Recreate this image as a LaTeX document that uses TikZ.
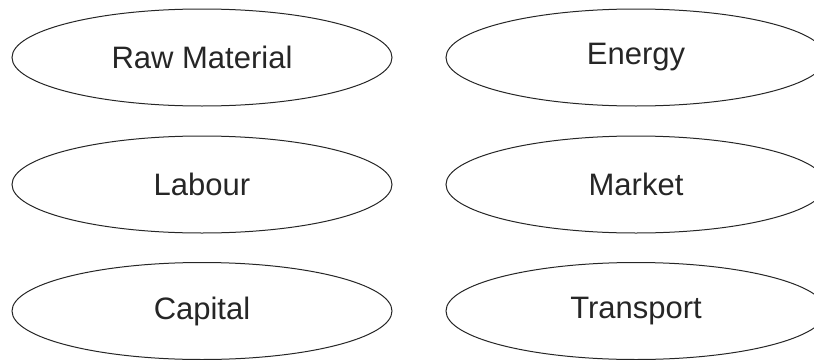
\documentclass[tikz,border=0pt]{standalone}
\usepackage{fontspec}
\setmainfont{Liberation Sans}
\usetikzlibrary{shapes.geometric}
\begin{document}
\begin{tikzpicture}[x=1pt,y=-1pt,
  factor/.style={draw=black!85, line width=1pt, ellipse, minimum width=380pt, minimum height=97pt, inner sep=0pt, text=black!85, font=\fontsize{31}{36}\selectfont}]
\useasboundingbox (0,0) rectangle (814,359);
\node[factor] (raw) at (202,57.5) {Raw Material};
\node[factor] (energy) at (636,57.5) {Energy};
\node[factor] (labour) at (202,184.5) {Labour};
\node[factor] (market) at (636,184.5) {Market};
\node[factor] (capital) at (202,311) {Capital};
\node[factor] (transport) at (636,311) {Transport};
\end{tikzpicture}
\end{document}
